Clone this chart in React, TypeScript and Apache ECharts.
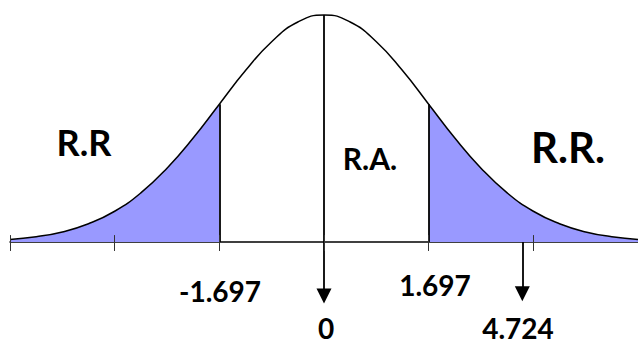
import React, { useEffect, useRef } from 'react';
import * as echarts from 'echarts';

// Positions along the axis, in standard-deviation units (as drawn)
const Z_POINTS = [-3, -2.75, -2.5, -2.25, -2, -1.75, -1.5, -1.25, -1, -0.75, -0.5, -0.25, 0, 0.25, 0.5, 0.75, 1, 1.25, 1.5, 1.75, 2, 2.25, 2.5, 2.75, 3];
// Curve height relative to the peak
const CURVE_HEIGHTS = [0.011, 0.023, 0.044, 0.08, 0.135, 0.216, 0.325, 0.458, 0.607, 0.755, 0.882, 0.969, 1, 0.969, 0.882, 0.755, 0.607, 0.458, 0.325, 0.216, 0.135, 0.08, 0.044, 0.023, 0.011];
const TICKS = [-3, -2, -1, 0, 1, 2, 3];
const CRITICAL_POSITIONS = [-1, 1];
const CRITICAL_LABELS = ['-1.697', '1.697'];
const CENTER_POSITION = 0;
const CENTER_LABEL = '0';
const STAT_POSITION = 1.895;
const STAT_LABEL = '4.724';
const REGION_LABELS = ['R.R', 'R.A.', 'R.R.'];

const FILL = '#9999ff';
const FONT = 'Lato, "Open Sans", sans-serif';

export default function App() {
  const ref = useRef<HTMLDivElement>(null);

  useEffect(() => {
    if (!ref.current) return;
    const chart = echarts.init(ref.current, null, { renderer: 'svg' });

    const heightAt = (z: number) => CURVE_HEIGHTS[Z_POINTS.indexOf(z)];
    const data = Z_POINTS.map((z, i) => [z, CURVE_HEIGHTS[i]]);

    const markLines: any[] = [];
    CRITICAL_POSITIONS.forEach((z) => {
      markLines.push([{ coord: [z, 0] }, { coord: [z, heightAt(z)] }]);
    });
    markLines.push([
      { coord: [CENTER_POSITION, heightAt(CENTER_POSITION)] },
      { coord: [CENTER_POSITION, -0.239], symbol: 'triangle', symbolSize: 15 },
    ]);
    markLines.push([
      { coord: [STAT_POSITION, 0] },
      { coord: [STAT_POSITION, -0.228], symbol: 'triangle', symbolSize: 15 },
    ]);
    TICKS.forEach((t) => {
      markLines.push([
        { coord: [t, 0.03], lineStyle: { width: 1, color: '#333' } },
        { coord: [t, -0.04] },
      ]);
    });

    const txt = (text: string, x: number, y: number, size: number) => ({
      type: 'text',
      x,
      y,
      style: {
        text,
        fill: '#000',
        font: `bold ${size}px ${FONT}`,
        align: 'center',
        verticalAlign: 'middle',
      },
    });

    chart.setOption({
      animation: false,
      grid: { left: 10, top: 15, width: 630, height: 330.6 },
      xAxis: {
        type: 'value',
        min: -3,
        max: 3,
        axisLine: { show: true, onZero: true, lineStyle: { color: '#000', width: 1.5 } },
        axisTick: { show: false },
        axisLabel: { show: false },
        splitLine: { show: false },
      },
      yAxis: {
        type: 'value',
        min: -0.45,
        max: 1,
        show: false,
        splitLine: { show: false },
      },
      visualMap: {
        type: 'piecewise',
        show: false,
        dimension: 0,
        seriesIndex: 0,
        pieces: [
          { lt: CRITICAL_POSITIONS[0], color: FILL },
          { gte: CRITICAL_POSITIONS[0], lte: CRITICAL_POSITIONS[1], color: 'rgba(255,255,255,0)' },
          { gt: CRITICAL_POSITIONS[1], color: FILL },
        ],
      },
      series: [
        {
          type: 'line',
          data,
          smooth: true,
          showSymbol: false,
          symbol: 'none',
          clip: false,
          lineStyle: { color: '#000', width: 1.5 },
          areaStyle: { opacity: 1 },
          markLine: {
            silent: true,
            symbol: ['none', 'none'],
            label: { show: false },
            lineStyle: { color: '#000', width: 1.8, type: 'solid' },
            emphasis: { disabled: true },
            data: markLines,
          },
        },
      ],
      graphic: [
        txt(REGION_LABELS[0], 84, 142, 36),
        txt(REGION_LABELS[1], 370, 158, 30),
        txt(REGION_LABELS[2], 568, 147, 42),
        txt(CRITICAL_LABELS[0], 220, 291, 28),
        txt(CRITICAL_LABELS[1], 435, 285, 28),
        txt(CENTER_LABEL, 326, 328, 28),
        txt(STAT_LABEL, 518, 328, 28),
      ],
    });

    return () => chart.dispose();
  }, []);

  return (
    <div
      ref={ref}
      style={{ position: 'fixed', left: 0, top: 0, width: 638, height: 344, background: '#fff' }}
    />
  );
}
